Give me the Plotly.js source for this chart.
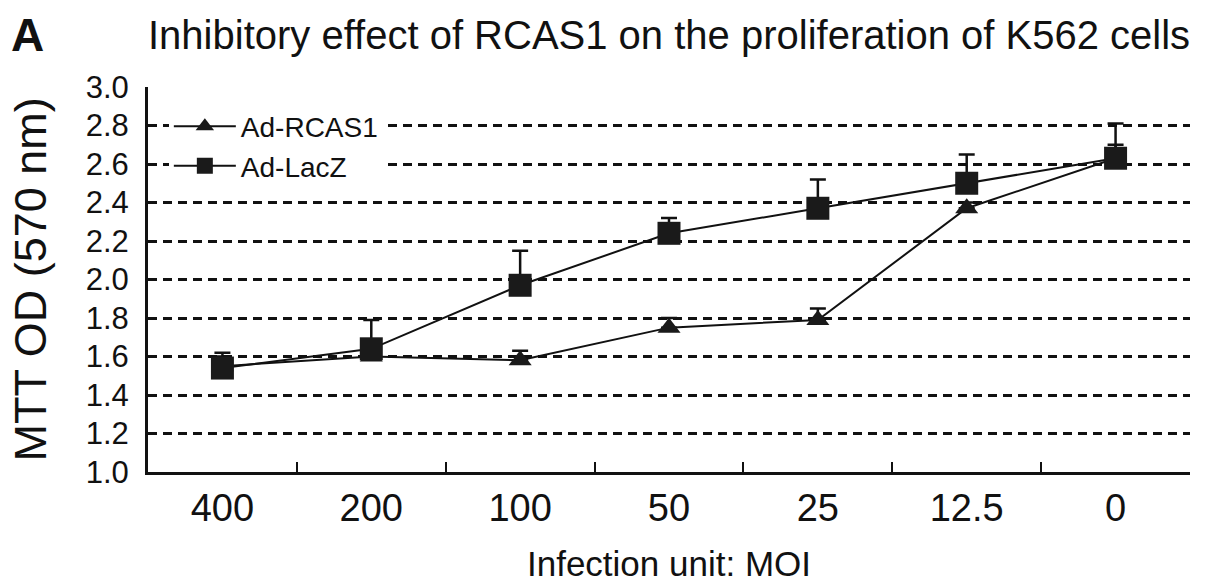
<!DOCTYPE html>
<html>
<head>
<meta charset="utf-8">
<script src="https://cdn.plot.ly/plotly-3.0.1.min.js"></script>
<style>html,body{margin:0;padding:0;background:#fff;}#chart{width:1205px;height:588px;}</style>
</head>
<body>
<div id="chart"></div>
<script>
const categories = ["400", "200", "100", "50", "25", "12.5", "0"];
const rcas1Values = [1.55, 1.60, 1.58, 1.75, 1.79, 2.37, 2.63];
const rcas1ErrUp = [0.05, 0.03, 0.05, 0.05, 0.06, 0.03, 0.07];
const lacZValues = [1.54, 1.64, 1.97, 2.24, 2.37, 2.50, 2.63];
const lacZErrUp = [0.08, 0.15, 0.18, 0.08, 0.15, 0.15, 0.18];
const starCategories = ["100", "50", "25"];
const starValues = [2.30, 2.45, 2.66];
const yTicks = [1.0, 1.2, 1.4, 1.6, 1.8, 2.0, 2.2, 2.4, 2.6, 2.8, 3.0];

const regular = "'Liberation Sans', Arial, sans-serif";
const ink = "#111111";

const traces = [
  {
    x: categories, y: rcas1Values, name: "Ad-RCAS1", type: "scatter", mode: "lines+markers",
    line: {color: ink, width: 2},
    marker: {symbol: "triangle-up", size: 20, color: "#1a1a1a"},
    error_y: {type: "data", symmetric: false, array: rcas1ErrUp, arrayminus: rcas1ErrUp.map(() => 0), color: ink, thickness: 2.5, width: 8},
    legendgroup: "a"
  },
  {
    x: categories, y: lacZValues, name: "Ad-LacZ", type: "scatter", mode: "lines+markers",
    line: {color: ink, width: 2},
    marker: {symbol: "square", size: 23, color: "#1a1a1a"},
    error_y: {type: "data", symmetric: false, array: lacZErrUp, arrayminus: lacZErrUp.map(() => 0), color: ink, thickness: 2.5, width: 8},
    legendgroup: "b"
  }
];

const annotations = starCategories.map((c, i) => ({
  x: c, y: starValues[i], xref: "x", yref: "y", text: "*", showarrow: false,
  font: {family: regular, size: 34, color: ink}, yanchor: "middle"
}));
annotations.push({
  xref: "paper", yref: "paper", x: -0.116, y: 1.135, text: "<b>A</b>", showarrow: false,
  font: {family: regular, size: 46, color: ink}, xanchor: "center", yanchor: "middle"
});
annotations.push({
  xref: "paper", yref: "paper", x: -0.1123, y: 0.5, text: "MTT OD (570 nm)", showarrow: false,
  textangle: -90, font: {family: regular, size: 45, color: ink}, xanchor: "center", yanchor: "middle"
});

const layout = {
  width: 1205, height: 588,
  margin: {l: 148, r: 15, t: 87, b: 116},
  paper_bgcolor: "#fff", plot_bgcolor: "#fff",
  title: {
    text: "Inhibitory effect of RCAS1 on the proliferation of K562 cells",
    font: {family: regular, size: 40, color: ink},
    xref: "paper", x: 0, xanchor: "left",
    yref: "container", y: 0.94, yanchor: "middle"
  },
  showlegend: true,
  legend: {
    x: 0.02, y: 0.962, xanchor: "left", yanchor: "top",
    bgcolor: "rgba(255,255,255,1)", borderwidth: 0,
    font: {family: regular, size: 28, color: ink},
    itemwidth: 62,
    tracegroupgap: 0
  },
  xaxis: {
    type: "category",
    range: [-0.5, 6.5],
    showline: true, linecolor: ink, linewidth: 3,
    ticks: "inside", tickson: "boundaries", ticklen: 10, tickwidth: 2, tickcolor: ink,
    showgrid: false, zeroline: false,
    tickfont: {family: regular, size: 38, color: ink},
    title: {text: "Infection unit: MOI", font: {family: regular, size: 35, color: ink}, standoff: 24}
  },
  yaxis: {
    range: [1.0, 3.0],
    tickvals: yTicks, tickformat: ".1f",
    showline: true, linecolor: ink, linewidth: 3,
    ticks: "inside", ticklen: 6, tickwidth: 2, tickcolor: ink,
    ticklabelstandoff: 10,
    showgrid: true, gridcolor: ink, gridwidth: 3, griddash: "9px,6px",
    zeroline: false,
    tickfont: {family: regular, size: 31, color: ink}
  },
  annotations: annotations
};

Plotly.newPlot("chart", traces, layout, {displayModeBar: false, staticPlot: true});
</script>
</body>
</html>
